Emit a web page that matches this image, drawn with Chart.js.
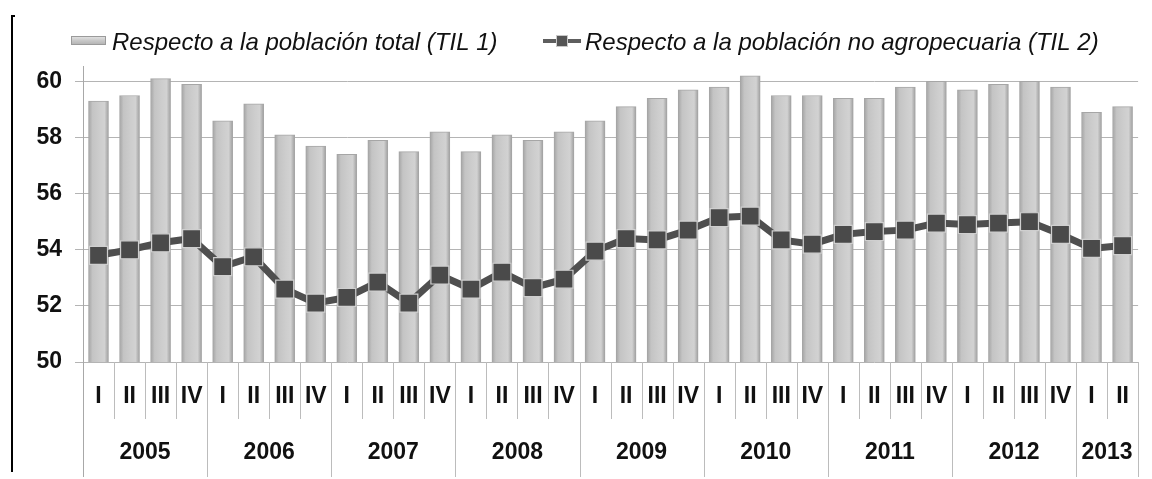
<!DOCTYPE html>
<html>
<head>
<meta charset="utf-8">
<script src="https://cdn.jsdelivr.net/npm/chart.js@4.4.1/dist/chart.umd.min.js"></script>
<style>
  body { margin: 0; background: #fff; }
  #wrap { width: 1152px; height: 479px; }
</style>
</head>
<body>
<div id="wrap"><canvas id="chart" width="1152" height="479"></canvas></div>
<script>
const quarters = ["I", "II", "III", "IV", "I", "II", "III", "IV", "I", "II", "III", "IV",
    "I", "II", "III", "IV", "I", "II", "III", "IV", "I", "II", "III", "IV",
    "I", "II", "III", "IV", "I", "II", "III", "IV", "I", "II"];
const years = ["2005", "2006", "2007", "2008", "2009", "2010", "2011", "2012", "2013"];
const yearSpans = [4, 4, 4, 4, 4, 4, 4, 4, 2];

// TIL 1: respecto a la poblacion total
const til1 = [59.3, 59.5, 60.1, 59.9, 58.6, 59.2, 58.1, 57.7, 57.4, 57.9, 57.5, 58.2,
    57.5, 58.1, 57.9, 58.2, 58.6, 59.1, 59.4, 59.7, 59.8, 60.2, 59.5, 59.5,
    59.4, 59.4, 59.8, 60.0, 59.7, 59.9, 60.0, 59.8, 58.9, 59.1];

// TIL 2: respecto a la poblacion no agropecuaria
const til2 = [53.8, 54.0, 54.25, 54.4, 53.4, 53.75, 52.6, 52.1, 52.3, 52.85, 52.1, 53.1,
    52.6, 53.2, 52.65, 52.95, 53.95, 54.4, 54.35, 54.7, 55.15, 55.2, 54.35, 54.2,
    54.55, 54.65, 54.7, 54.95, 54.9, 54.95, 55.0, 54.55, 54.05, 54.15];

const legendLabels = ["Respecto a la población total (TIL 1)", "Respecto a la población no agropecuaria (TIL 2)"];

const FONT = "'Liberation Sans', Arial, sans-serif";
const BAR_W = 20;

function barGradient(ctx) {
    const chart = ctx.chart;
    if (!chart.chartArea) return "#c8c8c8";
    const x = chart.scales.x.getPixelForValue(ctx.dataIndex);
    const g = chart.ctx.createLinearGradient(x - BAR_W / 2, 0, x + BAR_W / 2, 0);
    g.addColorStop(0, "#a4a4a4");
    g.addColorStop(0.2, "#c4c4c4");
    g.addColorStop(0.55, "#cdcdcd");
    g.addColorStop(0.8, "#d2d2d2");
    g.addColorStop(1, "#9e9e9e");
    return g;
}

// legend, left bracket and the two-level category axis
const decorPlugin = {
    id: "decorPlugin",
    afterDraw(chart) {
        const ctx = chart.ctx;
        const xs = chart.scales.x;
        const area = chart.chartArea;
        const half = (xs.getPixelForValue(1) - xs.getPixelForValue(0)) / 2;
        ctx.save();

        // bracket on the left
        ctx.strokeStyle = "#000";
        ctx.lineWidth = 2;
        ctx.beginPath();
        ctx.moveTo(15, 16);
        ctx.lineTo(12, 16);
        ctx.lineTo(12, 472);
        ctx.stroke();

        // separators
        ctx.strokeStyle = "#bcbcbc";
        ctx.lineWidth = 1;
        let yearStart = [0];
        yearSpans.reduce((acc, n) => { yearStart.push(acc + n); return acc + n; }, 0);
        for (let i = 0; i <= quarters.length; i++) {
            const x = Math.round(xs.getPixelForValue(i) - half) + 0.5;
            const isYear = yearStart.includes(i);
            ctx.beginPath();
            ctx.moveTo(x, area.bottom);
            ctx.lineTo(x, isYear ? 477 : 419);
            ctx.stroke();
        }
        // axis line down through the label area
        ctx.strokeStyle = "#a8a8a8";
        ctx.beginPath();
        ctx.moveTo(area.left + 0.5, area.bottom);
        ctx.lineTo(area.left + 0.5, 477);
        ctx.stroke();

        // quarter labels
        ctx.fillStyle = "#111";
        ctx.textAlign = "center";
        ctx.textBaseline = "middle";
        ctx.font = "bold 23px " + FONT;
        quarters.forEach((q, i) => {
            ctx.fillText(q, xs.getPixelForValue(i), 397);
        });
        // year labels
        ctx.font = "bold 23px " + FONT;
        years.forEach((y, k) => {
            const a = yearStart[k];
            const b = yearStart[k + 1] - 1;
            const cx = (xs.getPixelForValue(a) + xs.getPixelForValue(b)) / 2;
            ctx.fillText(y, cx, 453);
        });

        // legend
        const lg = ctx.createLinearGradient(0, 36, 0, 45);
        lg.addColorStop(0, "#e6e6e6");
        lg.addColorStop(0.5, "#c8c8c8");
        lg.addColorStop(1, "#b0b0b0");
        ctx.fillStyle = lg;
        ctx.fillRect(71, 36, 35, 9);
        ctx.strokeStyle = "#9a9a9a";
        ctx.strokeRect(71.5, 36.5, 34, 8);

        ctx.strokeStyle = "#5e5e5e";
        ctx.lineWidth = 4;
        ctx.beginPath();
        ctx.moveTo(543, 41);
        ctx.lineTo(581, 41);
        ctx.stroke();
        ctx.fillStyle = "#555";
        ctx.fillRect(556, 35, 12, 12);
        ctx.strokeStyle = "#c8c8c8";
        ctx.lineWidth = 1;
        ctx.strokeRect(556.5, 35.5, 11, 11);

        ctx.fillStyle = "#111";
        ctx.textAlign = "left";
        ctx.textBaseline = "alphabetic";
        ctx.font = "italic 24px " + FONT;
        ctx.fillText(legendLabels[0], 112, 50);
        ctx.fillText(legendLabels[1], 585, 50);
        ctx.restore();
    }
};

new Chart(document.getElementById("chart"), {
    data: {
        labels: quarters,
        datasets: [
            {
                type: "line",
                label: legendLabels[1],
                data: til2,
                order: 1,
                borderColor: "#4f4f4f",
                borderWidth: 7,
                pointStyle: "rect",
                pointRadius: 12.7,
                pointBackgroundColor: "#4a4a4a",
                pointBorderColor: "#cfcfcf",
                pointBorderWidth: 1.2
            },
            {
                type: "bar",
                label: legendLabels[0],
                data: til1,
                order: 2,
                barThickness: BAR_W,
                backgroundColor: barGradient,
                borderColor: "#a6a6a6",
                borderWidth: 1
            }
        ]
    },
    plugins: [decorPlugin],
    options: {
        responsive: false,
        animation: false,
        layout: { padding: { left: 0, top: 66, right: 9, bottom: 117 } },
        plugins: { legend: { display: false }, tooltip: { enabled: false } },
        scales: {
            x: { display: false },
            y: {
                min: 50,
                max: 60.55,
                afterFit: (scale) => { scale.width = 83; },
                ticks: {
                    stepSize: 2,
                    includeBounds: false,
                    padding: 13,
                    color: "#111",
                    font: { family: FONT, size: 23, weight: "bold" }
                },
                grid: { color: "#b4b4b4", tickLength: 8 },
                border: { color: "#a8a8a8" }
            }
        }
    }
});
</script>
</body>
</html>
